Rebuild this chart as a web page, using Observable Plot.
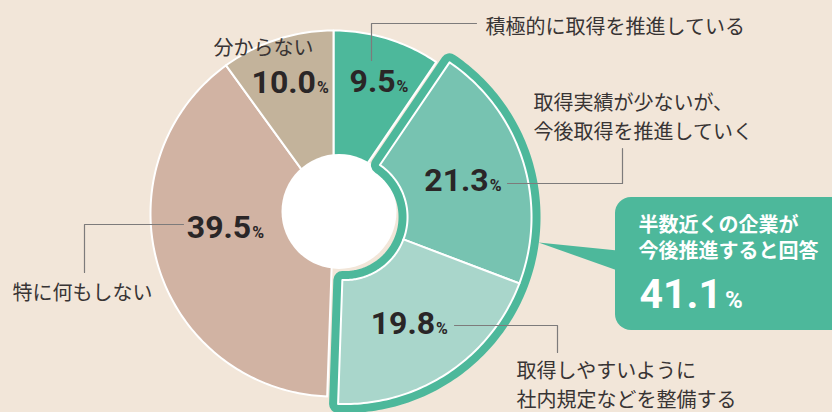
<!DOCTYPE html>
<html>
<head>
<meta charset="utf-8">
<script src="https://cdn.jsdelivr.net/npm/d3@7"></script>
<script src="https://cdn.jsdelivr.net/npm/@observablehq/plot@0.6"></script>
<style>
  html, body { margin: 0; padding: 0; background: #F2E6D9; }
  #chart { width: 832px; height: 412px; overflow: hidden; }
  svg { display: block; }
</style>
</head>
<body>
<div id="chart"></div>
<script>
// ---- data ----
const categories = [
  "積極的に取得を推進している",
  "取得実績が少ないが、\n今後取得を推進していく",
  "取得しやすいように\n社内規定などを整備する",
  "特に何もしない",
  "分からない"
];
const values = [9.5, 21.3, 19.8, 39.5, 10.0];
const highlighted = [1, 2];
const calloutLines = ["半数近くの企業が", "今後推進すると回答"];

// ---- styles ----
const colors = ["#4DB89B", "#77C3B1", "#A9D6CB", "#D1B3A3", "#C3B39B"];
const green = "#4DB89B";
const textColor = "#2a2627";
const labelColor = "#383434";
const leaderColor = "#7d7b7b";

// ---- layout (chart units = pixels, origin at donut centre, y downwards) ----
const R = 183, R0 = 40;             // normal slices
const R_EX = 187, R0_EX = 63;       // highlighted slices
const EXPLODE = 11.6;
const HOLE = {dx: 5.5, dy: -2, r: 57.5};
const pctRadius = [139, 124, 125, 109, 138];
const pctRotate = [2, 0.3, 2.4, 9.5, -0.3];   // degrees
const catPos = [[152, -189], [200, -98], [183, 170], [-321, 77], [-120, -168]];
const leaders = [
  [[38, -153], [38, -190], [143, -190]],
  [[174, -30], [289, -30], [289, -65]],
  [[121, 112], [224, 112], [224, 139]],
  [[-150, 11], [-249, 11], [-249, 59]]
];
const box = {x1: 282, x2: 530, y1: -16, y2: 117, rx: 16};
const pointer = [[205, 29], [284, 37], [284, 57]];
const calloutTextPos = [305, 23];
const calloutPctPos = [306, 81];

// ---- geometry from data ----
const arcs = d3.pie().sort(null).value(d => d)(values);
const exStart = arcs[highlighted[0]].startAngle;
const exEnd = arcs[highlighted[highlighted.length - 1]].endAngle;
const exMid = (exStart + exEnd) / 2;
const off = [EXPLODE * Math.sin(exMid), -EXPLODE * Math.cos(exMid)];

function arcPts(a0, a1, r0, r1, cx, cy, key) {
  const n = Math.max(2, Math.ceil((a1 - a0) / (Math.PI / 180)));
  const pts = [];
  for (let i = 0; i <= n; i++) {
    const a = a0 + (a1 - a0) * i / n;
    pts.push({key, x: cx + r1 * Math.sin(a), y: cy - r1 * Math.cos(a)});
  }
  for (let i = n; i >= 0; i--) {
    const a = a0 + (a1 - a0) * i / n;
    pts.push({key, x: cx + r0 * Math.sin(a), y: cy - r0 * Math.cos(a)});
  }
  return pts;
}

const normalPts = [], exPts = [];
arcs.forEach((a, i) => {
  if (highlighted.includes(i)) {
    exPts.push(...arcPts(a.startAngle, a.endAngle, R0_EX, R_EX, off[0], off[1], categories[i]));
  } else {
    normalPts.push(...arcPts(a.startAngle, a.endAngle, R0, R, 0, 0, categories[i]));
  }
});
const groupPts = arcPts(exStart, exEnd, R0_EX, R_EX, off[0], off[1], "group");

const pctLabels = arcs.map((a, i) => {
  const ex = highlighted.includes(i);
  const ang = (a.startAngle + a.endAngle) / 2 + pctRotate[i] * Math.PI / 180;
  const cx = ex ? off[0] : 0, cy = ex ? off[1] : 0;
  return {x: cx + pctRadius[i] * Math.sin(ang), y: cy - pctRadius[i] * Math.cos(ang), text: values[i].toFixed(1) + "%"};
});
const catLabels = categories.map((c, i) => ({x: catPos[i][0], y: catPos[i][1], text: c}));
const leaderPts = leaders.flatMap((l, k) => l.map(p => ({key: k, x: p[0], y: p[1]})));
const pointerPts = pointer.map(p => ({x: p[0], y: p[1]}));
const highlightSum = d3.sum(highlighted, i => values[i]);

const chart = Plot.plot({
  width: 832,
  height: 412,
  margin: 0,
  style: {background: "transparent"},
  x: {domain: [-333, 499], range: [0, 832], axis: null},
  y: {domain: [-213, 199], range: [0, 412], axis: null},
  color: {domain: categories, range: colors},
  marks: [
    Plot.line(normalPts, {x: "x", y: "y", z: "key", fill: "key", stroke: "white", strokeWidth: 2, curve: "linear-closed"}),
    Plot.dot([{x: HOLE.dx, y: HOLE.dy}], {x: "x", y: "y", r: HOLE.r, fill: "white", stroke: null}),
    Plot.line(groupPts, {x: "x", y: "y", fill: green, stroke: green, strokeWidth: 18, strokeLinejoin: "round", curve: "linear-closed"}),
    Plot.line(exPts, {x: "x", y: "y", z: "key", fill: "key", stroke: "white", strokeWidth: 2, curve: "linear-closed"}),
    Plot.line(pointerPts, {x: "x", y: "y", fill: green, stroke: null, curve: "linear-closed"}),
    Plot.rect([box], {x1: "x1", x2: "x2", y1: "y1", y2: "y2", fill: green, rx: box.rx}),
    Plot.line(leaderPts, {x: "x", y: "y", z: "key", stroke: leaderColor, strokeWidth: 1.2}),
    Plot.text(pctLabels, {x: "x", y: "y", text: "text", textAnchor: "middle", fontSize: 32, fontWeight: "bold", fontFamily: "Roboto", fill: textColor}),
    Plot.text(catLabels, {x: "x", y: "y", text: "text", textAnchor: "start", fontSize: 20, lineHeight: 1.42, fontFamily: "Noto Sans CJK JP", fill: labelColor}),
    Plot.text([{x: calloutTextPos[0], y: calloutTextPos[1], text: calloutLines.join("\n")}], {x: "x", y: "y", text: "text", textAnchor: "start", fontSize: 20, lineHeight: 1.32, fontWeight: "bold", fontFamily: "Noto Sans CJK JP", fill: "white"}),
    Plot.text([{x: calloutPctPos[0], y: calloutPctPos[1], text: highlightSum.toFixed(1) + "%"}], {x: "x", y: "y", text: "text", textAnchor: "start", fontSize: 41, fontWeight: "bold", fontFamily: "Roboto", fill: "white"})
  ]
});

// smaller "%" signs
chart.querySelectorAll("text").forEach(el => {
  const t = el.textContent;
  if (/^[\d.]+%$/.test(t)) {
    const fs = +(el.parentNode.getAttribute("font-size") || el.getAttribute("font-size") || 32);
    el.textContent = t.slice(0, -1);
    const ts = document.createElementNS("http://www.w3.org/2000/svg", "tspan");
    ts.textContent = "%";
    ts.setAttribute("font-size", fs >= 38 ? 24 : 16);
    ts.setAttribute("dx", fs >= 38 ? 3 : 1);
    el.appendChild(ts);
  }
});
document.getElementById("chart").appendChild(chart);
</script>
</body>
</html>
